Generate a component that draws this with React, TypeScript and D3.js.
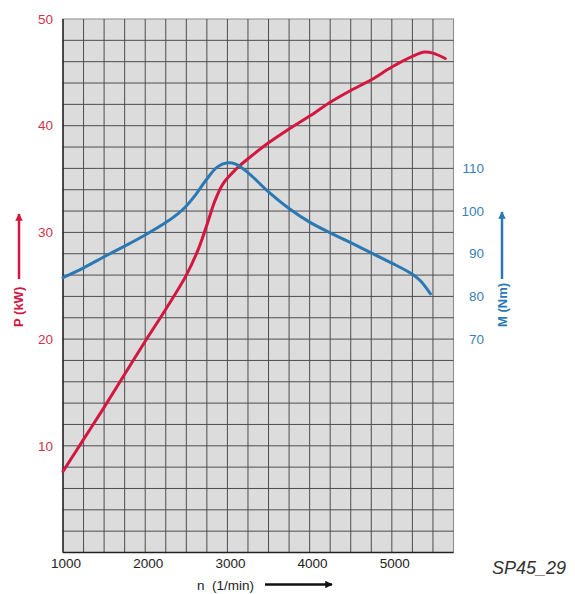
import * as d3 from "d3";

// engine speed (1/min)
const rpmP = [1000, 1250, 1500, 1750, 2000, 2250, 2500, 2650, 2750, 2850, 2950, 3100, 3250, 3500, 3750, 4000, 4250, 4500, 4750, 5000, 5250, 5400, 5500, 5650];
// power P (kW)
const powerKW = [7.6, 10.6, 13.6, 16.7, 19.8, 22.8, 26.0, 28.5, 30.7, 33.0, 34.6, 35.9, 36.9, 38.4, 39.7, 40.9, 42.2, 43.3, 44.3, 45.5, 46.5, 46.9, 46.8, 46.3];

const rpmM = [1000, 1250, 1500, 1750, 2000, 2250, 2400, 2500, 2600, 2750, 2875, 3000, 3100, 3250, 3500, 3750, 4000, 4250, 4500, 4750, 5000, 5250, 5350, 5470];
// torque M (Nm)
const torqueNm = [84.4, 86.7, 89.3, 91.8, 94.4, 97.3, 99.4, 101.2, 103.5, 107.5, 110.3, 111.3, 111.0, 109.0, 104.5, 100.6, 97.4, 94.9, 92.6, 90.2, 87.8, 85.2, 83.6, 80.6];

const xTicks = [1000, 2000, 3000, 4000, 5000];
const pTicks = [10, 20, 30, 40, 50];
const mTicks = [70, 80, 90, 100, 110];

const RED = "#d3173f";
const BLUE = "#2a79b4";

export default function App() {
  const width = 575;
  const height = 594;
  const left = 63;
  const right = 453.5;
  const top = 19;
  const bottom = 552.5;

  const x = d3.scaleLinear([1000, 5750], [left, right]);
  const y = d3.scaleLinear([0, 50], [bottom, top]);
  const yM = d3.scaleLinear([20, 145], [bottom, top]);

  const vLines = d3.range(1250, 5750, 250);
  const hLines = d3.range(2, 50, 2);

  const pLine = d3
    .line<number>()
    .x((d, i) => x(rpmP[i]))
    .y((d) => y(d))
    .curve(d3.curveCatmullRom.alpha(0.5));
  const mLine = d3
    .line<number>()
    .x((d, i) => x(rpmM[i]))
    .y((d) => yM(d))
    .curve(d3.curveCatmullRom.alpha(0.5));

  const font = "Liberation Sans, Arial, sans-serif";

  return (
    <svg
      width={width}
      height={height}
      style={{ position: "absolute", left: 0, top: 0, background: "white" }}
      fontFamily={font}
    >
      <defs>
        <marker id="headK" viewBox="0 0 10 10" refX="9" refY="5" markerWidth="4" markerHeight="3" orient="auto" markerUnits="strokeWidth">
          <path d="M0,0 L10,5 L0,10 z" fill="#111" />
        </marker>
        <marker id="headR" viewBox="0 0 10 10" refX="9" refY="5" markerWidth="3" markerHeight="4" orient="auto" markerUnits="strokeWidth">
          <path d="M0,0 L10,5 L0,10 z" fill={RED} />
        </marker>
        <marker id="headB" viewBox="0 0 10 10" refX="9" refY="5" markerWidth="3" markerHeight="4" orient="auto" markerUnits="strokeWidth">
          <path d="M0,0 L10,5 L0,10 z" fill={BLUE} />
        </marker>
      </defs>

      <rect x={left} y={top} width={right - left} height={bottom - top} fill="#dcdcdc" stroke="#8a8a8a" strokeWidth={1} />

      {vLines.map((v) => (
        <line key={"v" + v} x1={x(v)} x2={x(v)} y1={top} y2={bottom} stroke="#4d4d4d" strokeWidth={1} />
      ))}
      {hLines.map((h) => (
        <line key={"h" + h} x1={left} x2={right} y1={y(h)} y2={y(h)} stroke="#4d4d4d" strokeWidth={1} />
      ))}
      <line x1={left} x2={left} y1={top} y2={bottom} stroke="#222" strokeWidth={1.5} />
      <line x1={left} x2={right} y1={bottom} y2={bottom} stroke="#222" strokeWidth={1.5} />

      <path d={pLine(powerKW) || ""} fill="none" stroke={RED} strokeWidth={3} strokeLinecap="round" />
      <path d={mLine(torqueNm) || ""} fill="none" stroke={BLUE} strokeWidth={3} strokeLinecap="round" />

      {pTicks.map((t) => (
        <text key={"p" + t} x={53} y={y(t)} dy="0.35em" textAnchor="end" fontSize={13.5} fill="#c9354f">
          {t}
        </text>
      ))}
      {mTicks.map((t) => (
        <text key={"m" + t} x={484} y={yM(t)} dy="0.35em" textAnchor="end" fontSize={13.5} fill="#3a7fb3">
          {t}
        </text>
      ))}
      {xTicks.map((t) => (
        <text key={"x" + t} x={x(t) + 3} y={568} textAnchor="middle" fontSize={13.5} fill="#222">
          {t}
        </text>
      ))}

      <g transform="translate(23,327) rotate(-90)">
        <text x={0} y={0} fontSize={13} fontWeight="bold" fill={RED}>
          P (kW)
        </text>
      </g>
      <line x1={19} x2={19} y1={279} y2={214} stroke={RED} strokeWidth={2.5} markerEnd="url(#headR)" />

      <g transform="translate(507,327) rotate(-90)">
        <text x={0} y={0} fontSize={13} fontWeight="bold" fill={BLUE}>
          M (Nm)
        </text>
      </g>
      <line x1={502} x2={502} y1={279} y2={212} stroke={BLUE} strokeWidth={2.5} markerEnd="url(#headB)" />

      <text x={197} y={590} fontSize={13.5} fill="#222" style={{ whiteSpace: "pre" }}>
        {"n  (1/min)"}
      </text>
      <line x1={265} x2={332} y1={584.5} y2={584.5} stroke="#111" strokeWidth={2.5} markerEnd="url(#headK)" />

      <text x={492} y={574} fontSize={18} fontStyle="italic" fill="#333">
        SP45_29
      </text>
    </svg>
  );
}
